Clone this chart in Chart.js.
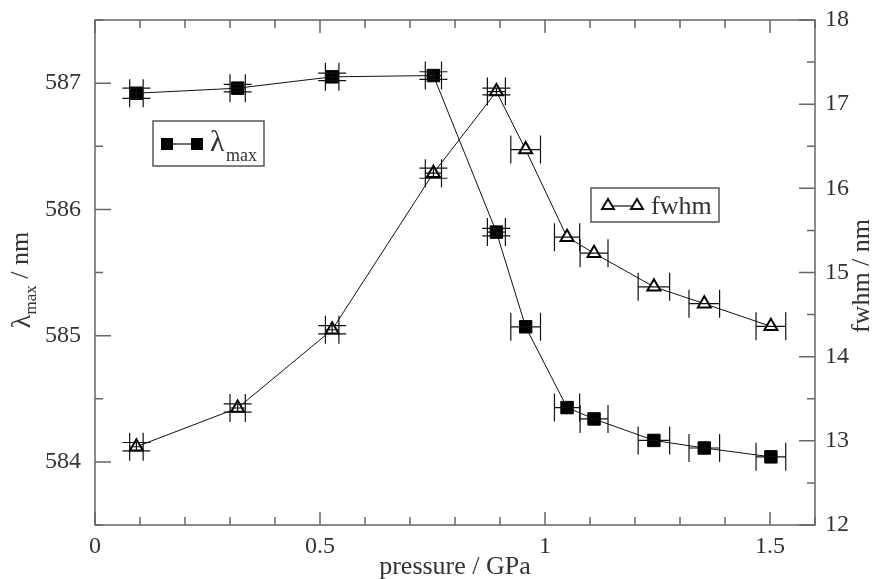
<!DOCTYPE html>
<html>
<head>
<meta charset="utf-8">
<script src="https://cdn.jsdelivr.net/npm/chart.js@4/dist/chart.umd.min.js"></script>
<style>
  html, body { margin: 0; padding: 0; background: #fff; }
  canvas { display: block; }
</style>
</head>
<body>
<canvas id="chart" width="877" height="579"></canvas>
<script>
// datos
const pressure = [0.092, 0.317, 0.527, 0.752, 0.892, 0.957, 1.049, 1.109, 1.242, 1.354, 1.502];
const pressureErr = [0.015, 0.017, 0.015, 0.018, 0.02, 0.033, 0.028, 0.031, 0.035, 0.034, 0.033];
const lambdaMax = [586.92, 586.96, 587.05, 587.06, 585.82, 585.07, 584.43, 584.34, 584.17, 584.11, 584.04];
const lambdaErr = [0.04, 0.03, 0.03, 0.03, 0.03, 0.0, 0.0, 0.0, 0.0, 0.0, 0.0];
const fwhm = [12.93, 13.39, 14.32, 16.18, 17.15, 16.46, 15.42, 15.23, 14.83, 14.63, 14.36];
const fwhmErr = [0.05, 0.05, 0.05, 0.06, 0.04, 0.0, 0.0, 0.0, 0.0, 0.0, 0.0];

const xTicks = [0, 0.5, 1, 1.5];
const lambdaTicks = [584, 585, 586, 587];
const fwhmTicks = [12, 13, 14, 15, 16, 17, 18];

const SERIF = "'Liberation Serif'";
const INK = '#333';

// barras de error, ejes con marcas hacia dentro, leyendas y titulos
const decor = {
  id: 'decor',
  afterDatasetsDraw(chart) {
    const c = chart.ctx;
    const xs = chart.scales.x;
    const a = chart.chartArea;
    c.save();
    c.strokeStyle = '#111';
    c.lineWidth = 1.2;
    const cap = 14;
    chart.data.datasets.forEach(ds => {
      const ys = chart.scales[ds.yAxisID];
      ds.data.forEach((pt, i) => {
        const px = xs.getPixelForValue(pt.x);
        const py = ys.getPixelForValue(pt.y);
        const x1 = xs.getPixelForValue(pt.x - ds.errX[i]);
        const x2 = xs.getPixelForValue(pt.x + ds.errX[i]);
        c.beginPath();
        c.moveTo(x1, py); c.lineTo(x2, py);
        c.moveTo(x1, py - cap); c.lineTo(x1, py + cap);
        c.moveTo(x2, py - cap); c.lineTo(x2, py + cap);
        if (ds.errY[i] > 0) {
          const y1 = ys.getPixelForValue(pt.y + ds.errY[i]);
          const y2 = ys.getPixelForValue(pt.y - ds.errY[i]);
          c.moveTo(px, y1); c.lineTo(px, y2);
          c.moveTo(px - cap, y1); c.lineTo(px + cap, y1);
          c.moveTo(px - cap, y2); c.lineTo(px + cap, y2);
        }
        c.stroke();
      });
    });

    // marco
    c.strokeStyle = '#666';
    c.lineWidth = 1.5;
    c.strokeRect(a.left, a.top, a.right - a.left, a.bottom - a.top);

    // marcas
    c.beginPath();
    for (let k = 0; k <= 16; k++) {
      const v = k / 10;
      const x = xs.getPixelForValue(v);
      const len = (k % 5 === 0) ? 13 : 8;
      c.moveTo(x, a.bottom); c.lineTo(x, a.bottom - len);
      c.moveTo(x, a.top); c.lineTo(x, a.top + len);
    }
    const yl = chart.scales.y;
    for (let v = 583.5; v <= 587.5; v += 0.5) {
      const y = yl.getPixelForValue(v);
      const len = Number.isInteger(v) ? 16 : 8;
      c.moveTo(a.left, y); c.lineTo(a.left + len, y);
    }
    const yr = chart.scales.y2;
    for (let v = 12; v <= 18; v += 0.5) {
      const y = yr.getPixelForValue(v);
      const len = Number.isInteger(v) ? 16 : 8;
      c.moveTo(a.right, y); c.lineTo(a.right - len, y);
    }
    c.stroke();
    c.restore();
  },
  afterDraw(chart) {
    const c = chart.ctx;
    c.save();
    c.fillStyle = INK;

    // titulo eje x
    c.font = '26px ' + SERIF;
    c.textAlign = 'center';
    c.textBaseline = 'alphabetic';
    c.fillText('pressure / GPa', 455, 574);

    // titulo eje izquierdo
    c.save();
    c.translate(30, 280);
    c.rotate(-Math.PI / 2);
    c.textAlign = 'left';
    c.font = '28px ' + SERIF;
    const w1 = c.measureText('λ').width;
    c.font = '17px ' + SERIF;
    const w2 = c.measureText('max').width;
    c.font = '26px ' + SERIF;
    const w3 = c.measureText(' / nm').width;
    let sx = -(w1 + w2 + w3) / 2;
    c.font = '28px ' + SERIF;
    c.fillText('λ', sx, 0); sx += w1;
    c.font = '17px ' + SERIF;
    c.fillText('max', sx, 6); sx += w2;
    c.font = '26px ' + SERIF;
    c.fillText(' / nm', sx, -2);
    c.restore();

    // titulo eje derecho
    c.save();
    c.translate(869, 276);
    c.rotate(-Math.PI / 2);
    c.textAlign = 'center';
    c.font = '26px ' + SERIF;
    c.fillText('fwhm / nm', 0, 0);
    c.restore();

    // leyenda 1
    c.fillStyle = '#fff';
    c.strokeStyle = '#555';
    c.lineWidth = 1.5;
    c.fillRect(153, 121, 111, 45);
    c.strokeRect(153, 121, 111, 45);
    c.strokeStyle = '#111';
    c.lineWidth = 1.2;
    c.beginPath(); c.moveTo(167, 144); c.lineTo(197, 144); c.stroke();
    c.fillStyle = '#000';
    c.fillRect(161, 138, 12, 12);
    c.fillRect(191, 138, 12, 12);
    c.fillStyle = INK;
    c.textAlign = 'left';
    c.font = '30px ' + SERIF;
    c.fillText('λ', 210, 151);
    c.font = '18px ' + SERIF;
    c.fillText('max', 226, 161);

    // leyenda 2
    c.fillStyle = '#fff';
    c.strokeStyle = '#555';
    c.lineWidth = 1.5;
    c.fillRect(591, 188, 128, 34);
    c.strokeRect(591, 188, 128, 34);
    c.strokeStyle = '#111';
    c.lineWidth = 1.2;
    c.beginPath(); c.moveTo(608, 206); c.lineTo(637, 206); c.stroke();
    c.lineWidth = 2;
    [608, 637].forEach(tx => {
      c.beginPath();
      c.moveTo(tx, 199); c.lineTo(tx + 6, 209); c.lineTo(tx - 6, 209); c.closePath();
      c.fillStyle = '#fff'; c.fill(); c.stroke();
    });
    c.fillStyle = INK;
    c.font = '26px ' + SERIF;
    c.fillText('fwhm', 651, 214);
    c.restore();
  }
};

const tickFont = { family: SERIF, size: 24 };

// sin relleno extra de las etiquetas, el area del grafico queda fija
const noPad = s => { s.paddingTop = 0; s.paddingBottom = 0; s.paddingLeft = 0; s.paddingRight = 0; };

new Chart(document.getElementById('chart').getContext('2d'), {
  type: 'scatter',
  data: {
    datasets: [
      {
        label: 'λmax',
        data: pressure.map((p, i) => ({ x: p, y: lambdaMax[i] })),
        errX: pressureErr,
        errY: lambdaErr,
        yAxisID: 'y',
        showLine: true,
        borderColor: '#111',
        borderWidth: 1,
        pointStyle: 'rect',
        pointRadius: 8.8,
        pointBackgroundColor: '#000',
        pointBorderColor: '#000',
        pointBorderWidth: 1
      },
      {
        label: 'fwhm',
        data: pressure.map((p, i) => ({ x: p, y: fwhm[i] })),
        errX: pressureErr,
        errY: fwhmErr,
        yAxisID: 'y2',
        showLine: true,
        borderColor: '#111',
        borderWidth: 1,
        pointStyle: 'triangle',
        pointRadius: 7.5,
        pointBackgroundColor: '#fff',
        pointBorderColor: '#000',
        pointBorderWidth: 2
      }
    ]
  },
  options: {
    responsive: false,
    devicePixelRatio: 1,
    animation: false,
    layout: { padding: { top: 20, left: 0, right: 0, bottom: 0 } },
    plugins: {
      legend: { display: false },
      tooltip: { enabled: false }
    },
    scales: {
      x: {
        type: 'linear',
        min: 0,
        max: 1.6,
        afterBuildTicks: s => { s.ticks = xTicks.map(v => ({ value: v })); },
        afterFit: s => { s.height = 54; noPad(s); },
        grid: { display: false, drawTicks: false },
        border: { display: false },
        ticks: { font: tickFont, color: INK, padding: 7, maxRotation: 0, callback: v => String(v) }
      },
      y: {
        position: 'left',
        min: 583.5,
        max: 587.5,
        afterBuildTicks: s => { s.ticks = lambdaTicks.map(v => ({ value: v })); },
        afterFit: s => { s.width = 95; noPad(s); },
        grid: { display: false, drawTicks: false },
        border: { display: false },
        ticks: { font: tickFont, color: INK, padding: 14, callback: v => String(v) }
      },
      y2: {
        position: 'right',
        min: 12,
        max: 18,
        afterBuildTicks: s => { s.ticks = fwhmTicks.map(v => ({ value: v })); },
        afterFit: s => { s.width = 62; noPad(s); },
        grid: { display: false, drawTicks: false },
        border: { display: false },
        ticks: { font: tickFont, color: INK, padding: 10, callback: v => String(v) }
      }
    }
  },
  plugins: [decor]
});
</script>
</body>
</html>
